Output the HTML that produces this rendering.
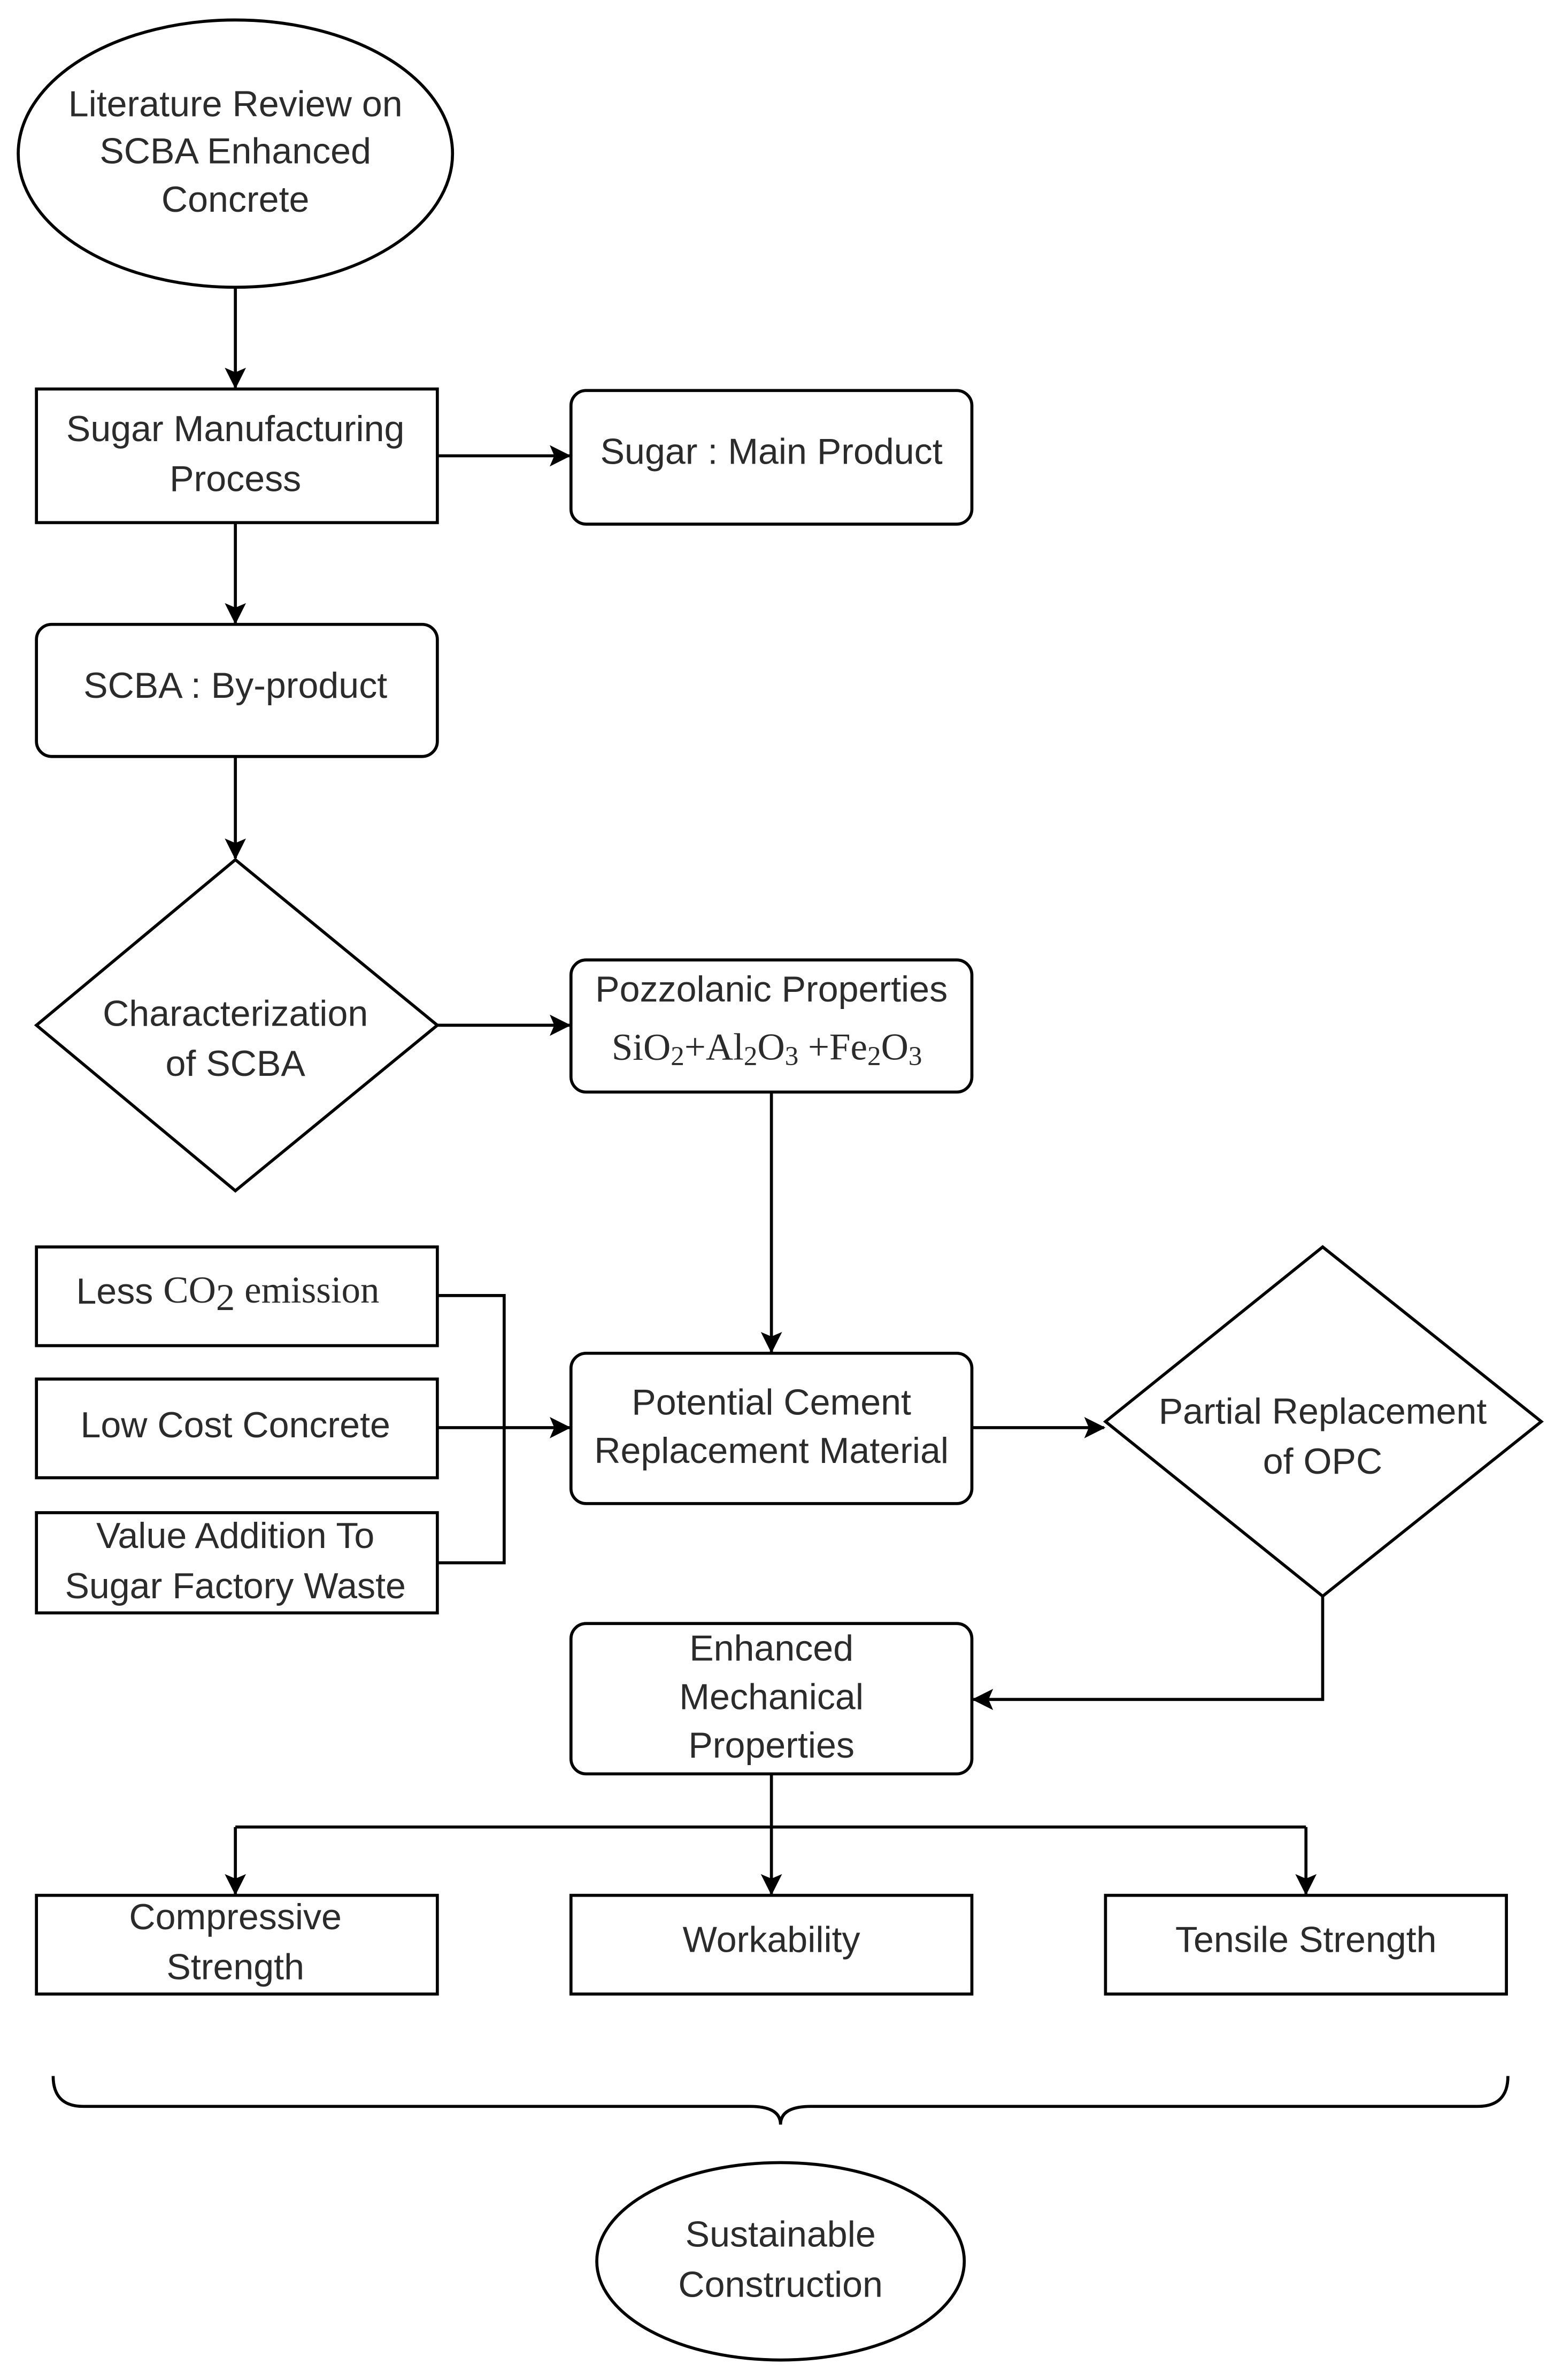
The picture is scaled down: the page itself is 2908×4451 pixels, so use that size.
<!DOCTYPE html>
<html><head><meta charset="utf-8"><style>
html,body{margin:0;padding:0;background:#fff;}
svg{display:block;}
text{font-family:"Liberation Sans",sans-serif;font-size:24px;fill:#2b2b2b;text-anchor:middle;dominant-baseline:middle;}
.s{font-family:"Liberation Serif",serif;font-size:25px;}
</style></head><body>
<svg width="2908" height="4451" viewBox="0 0 1024 1567" xmlns="http://www.w3.org/2000/svg">
<defs><marker id="a" markerWidth="10" markerHeight="10" refX="9" refY="5" orient="auto" markerUnits="userSpaceOnUse"><path d="M0,0 L10,5 L0,10 Z" fill="#000"/></marker>
<marker id="b" markerWidth="14" markerHeight="14" refX="13" refY="7" orient="auto" markerUnits="userSpaceOnUse"><path d="M0,0 L14,7 L0,14 L3,7 Z" fill="#000"/></marker></defs>
<g fill="#fff" stroke="#000" stroke-width="2">
<ellipse cx="155" cy="101" rx="143" ry="88"/>
<rect x="24" y="256" width="264" height="88"/>
<rect x="376" y="257" width="264" height="88" rx="10"/>
<rect x="24" y="411" width="264" height="87" rx="10"/>
<polygon points="155,566 288,675 155,784 24,675"/>
<rect x="376" y="632" width="264" height="87" rx="10"/>
<rect x="24" y="821" width="264" height="65"/>
<rect x="24" y="908" width="264" height="65"/>
<rect x="24" y="996" width="264" height="66"/>
<rect x="376" y="891" width="264" height="99" rx="10"/>
<polygon points="871,821 1015,936 871,1051 728,936"/>
<rect x="376" y="1069" width="264" height="99" rx="10"/>
<rect x="24" y="1248" width="264" height="65"/>
<rect x="376" y="1248" width="264" height="65"/>
<rect x="728" y="1248" width="264" height="65"/>
<ellipse cx="514" cy="1489" rx="121" ry="65"/>
</g>
<g fill="none" stroke="#000" stroke-width="2">
<line x1="155" y1="190" x2="155" y2="255" marker-end="url(#b)"/>
<line x1="288" y1="300" x2="375" y2="300" marker-end="url(#b)"/>
<line x1="155" y1="344" x2="155" y2="410" marker-end="url(#b)"/>
<line x1="155" y1="498" x2="155" y2="565" marker-end="url(#b)"/>
<line x1="288" y1="675" x2="375" y2="675" marker-end="url(#b)"/>
<line x1="508" y1="719" x2="508" y2="890" marker-end="url(#b)"/>
<polyline points="288,853 332,853 332,1029 288,1029"/>
<line x1="288" y1="940" x2="375" y2="940" marker-end="url(#b)"/>
<line x1="640" y1="940" x2="727" y2="940" marker-end="url(#b)"/>
<polyline points="871,1051 871,1119 641,1119" marker-end="url(#b)"/>
<line x1="508" y1="1168" x2="508" y2="1203"/>
<line x1="155" y1="1203" x2="860" y2="1203"/>
<line x1="155" y1="1203" x2="155" y2="1247" marker-end="url(#b)"/>
<line x1="508" y1="1203" x2="508" y2="1247" marker-end="url(#b)"/>
<line x1="860" y1="1203" x2="860" y2="1247" marker-end="url(#b)"/>
<path d="M35,1367 Q35,1387 55,1387 L494,1387 Q514,1387 514,1399 Q514,1387 534,1387 L973,1387 Q993,1387 993,1367"/>
</g>
<text x="155" y="70">Literature Review on</text>
<text x="155" y="101">SCBA Enhanced</text>
<text x="155" y="133">Concrete</text>
<text x="155" y="284">Sugar Manufacturing</text>
<text x="155" y="317">Process</text>
<text x="508" y="299">Sugar : Main Product</text>
<text x="155" y="453">SCBA : By-product</text>
<text x="155" y="669">Characterization</text>
<text x="155" y="702">of SCBA</text>
<text x="508" y="653">Pozzolanic Properties</text>
<text class="s" x="505" y="692">SiO<tspan font-size="18" dy="5">2</tspan><tspan dy="-5">+Al</tspan><tspan font-size="18" dy="5">2</tspan><tspan dy="-5">O</tspan><tspan font-size="18" dy="5">3</tspan><tspan dy="-5"> +Fe</tspan><tspan font-size="18" dy="5">2</tspan><tspan dy="-5">O</tspan><tspan font-size="18" dy="5">3</tspan></text>
<text x="150" y="852">Less <tspan class="s">CO</tspan><tspan class="s" font-size="18" dy="5">2</tspan><tspan class="s" dy="-5"> emission</tspan></text>
<text x="155" y="940">Low Cost Concrete</text>
<text x="155" y="1013">Value Addition To</text>
<text x="155" y="1046">Sugar Factory Waste</text>
<text x="508" y="925">Potential Cement</text>
<text x="508" y="957">Replacement Material</text>
<text x="871" y="931">Partial Replacement</text>
<text x="871" y="964">of OPC</text>
<text x="508" y="1087">Enhanced</text>
<text x="508" y="1119">Mechanical</text>
<text x="508" y="1151">Properties</text>
<text x="155" y="1264">Compressive</text>
<text x="155" y="1297">Strength</text>
<text x="508" y="1279">Workability</text>
<text x="860" y="1279">Tensile Strength</text>
<text x="514" y="1473">Sustainable</text>
<text x="514" y="1506">Construction</text>
</svg>
</body></html>
